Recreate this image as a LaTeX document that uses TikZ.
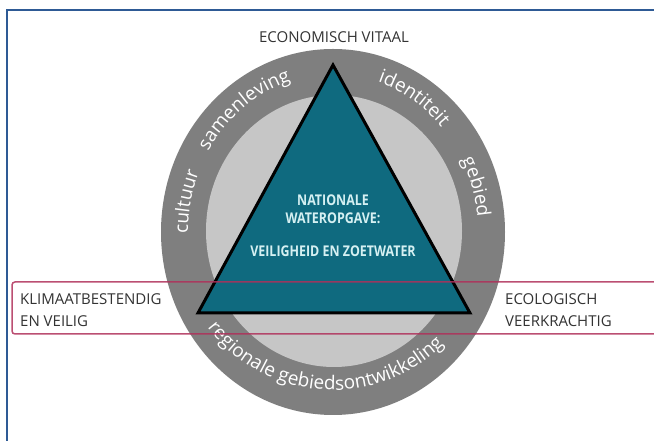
\documentclass[tikz,border=0pt]{standalone}
\usepackage{fontspec}
\setmainfont{Open Sans}
\newfontfamily\ringfont{Open Sans}
\newfontfamily\trifont[FakeStretch=0.84]{Open Sans}
\newcommand\ringsize{\fontsize{19}{19}\selectfont}
\usetikzlibrary{decorations.text}
\definecolor{ringdark}{HTML}{7F7F7F}
\definecolor{ringlight}{HTML}{C6C6C6}
\definecolor{tealfill}{HTML}{0F6A7F}
\definecolor{tritext}{HTML}{D5F0F2}
\definecolor{framebl}{HTML}{2E5A95}
\definecolor{boxred}{HTML}{B0305A}
\definecolor{labelgray}{HTML}{333333}
\begin{document}
\begin{tikzpicture}[x=1pt,y=1pt,
  ringtext/.style={decorate, decoration={text along path, text align=center, text color=white, text={|\ringfont\ringsize|#1}}},
  lab/.style={font=\fontsize{15}{15}\selectfont, text=labelgray, inner sep=0pt},
  tri/.style={font=\trifont\bfseries\fontsize{14.8}{14.8}\selectfont, text=tritext, inner sep=0pt}]
\useasboundingbox (0,0) rectangle (654,441);
\clip (0,0) rectangle (654,441);
\fill[white] (0,0) rectangle (654,441);
\draw[framebl, line width=2] (7,-20) rectangle (700,431);
% rings
\fill[ringdark] (333,209) ellipse [x radius=172, y radius=183];
\fill[ringlight] (334,210) ellipse [x radius=128, y radius=136];
% triangle
\coordinate (A) at (333,376);
\coordinate (B) at (198,128);
\coordinate (C) at (470,128);
\filldraw[fill=tealfill, draw=black, line width=3, line join=miter] (A) -- (B) -- (C) -- cycle;
% ring texts
\path[ringtext=samenleving] (333,209) ++(153:145 and 158) arc[start angle=153, end angle=103, x radius=145, y radius=158];
\path[ringtext=identiteit] (333,209) ++(82:145 and 158) arc[start angle=82, end angle=32, x radius=145, y radius=158];
\path[ringtext=gebied] (333,209) ++(41.5:145 and 158) arc[start angle=41.5, end angle=-8.5, x radius=145, y radius=158];
\path[ringtext=cultuur] (333,209) ++(194:145 and 158) arc[start angle=194, end angle=144, x radius=145, y radius=158];
\path[ringtext={regionale gebiedsontwikkeling}] (333,209) ++(196:158 and 158) arc[start angle=196, end angle=336, x radius=158, y radius=158];
% triangle text
\node[tri, anchor=base] (nat1) at (333,235) {NATIONALE};
\node[tri, anchor=base] (nat2) at (333,217) {WATEROPGAVE:};
\node[tri, anchor=base] (nat3) at (333,184) {VEILIGHEID EN ZOETWATER};
% labels
\node[lab, anchor=base] (econ) at (334,398) {ECONOMISCH VITAAL};
\node[lab, anchor=base west] (klim1) at (20,136) {KLIMAATBESTENDIG};
\node[lab, anchor=base west] (klim2) at (20,114) {EN VEILIG};
\node[lab, anchor=base west] (eco1) at (505,136) {ECOLOGISCH};
\node[lab, anchor=base west] (eco2) at (505,114) {VEERKRACHTIG};
% red box
\draw[boxred, line width=1.5, rounded corners=3, opacity=0.85] (12,107) rectangle (700,159);
\end{tikzpicture}
\end{document}
